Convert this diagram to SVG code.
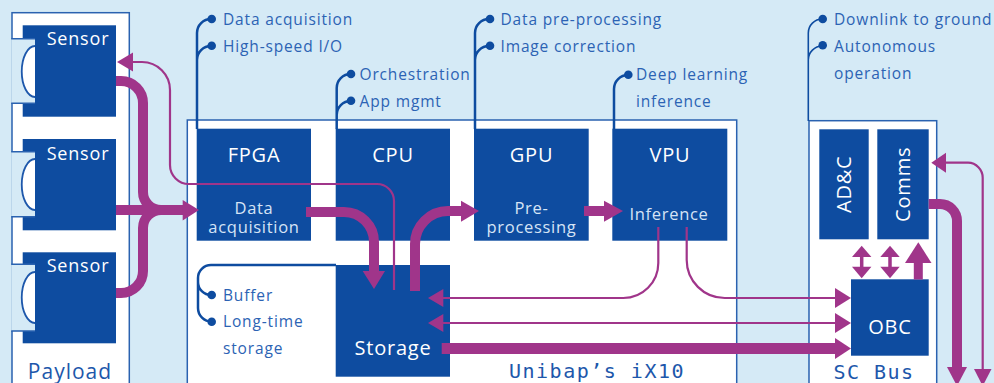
<svg xmlns="http://www.w3.org/2000/svg" width="994" height="383" viewBox="0 0 994 383">
<defs>
<style>
.bg{fill:#d5eaf6}
.frame{fill:#ffffff;stroke:#2a62b0;stroke-width:1.5}
.box{fill:#0e4ca0}
.lbl{font-family:"Open Sans","Noto Sans",sans-serif;fill:#ffffff;text-anchor:middle;letter-spacing:0.8px}
.sub{font-family:"Open Sans","Noto Sans",sans-serif;fill:#d6e4f6;text-anchor:middle;font-size:16.5px;letter-spacing:0.7px}
.ann{font-family:"Open Sans","Noto Sans",sans-serif;fill:#2c63b4;font-size:15.5px;letter-spacing:0.85px}
.mono{font-family:"DejaVu Sans Mono","Liberation Mono",monospace;fill:#1d57ab;font-size:20px;letter-spacing:1.5px}
.aline{fill:none;stroke:#0e4ca0;stroke-width:2.5}
.dot{fill:#0e4ca0}
.thick{fill:none;stroke:#a0358a;stroke-width:10}
.thin{fill:none;stroke:#a0358a;stroke-width:2.2}
.head{fill:#a0358a}
.lens{fill:#ffffff;stroke:#1d57ab;stroke-width:1.8}
</style>
</defs>
<rect class="bg" x="0" y="0" width="994" height="383"/>

<!-- Payload -->
<g id="payload">
<rect class="frame" x="12" y="12.7" width="117.3" height="380"/>
<text x="70" y="379" font-family="Open Sans, Noto Sans, sans-serif" font-size="21" letter-spacing="1" fill="#1d57ab" text-anchor="middle">Payload</text>
</g>
<g id="sensor1">
<rect class="box" x="22.7" y="25.3" width="93.3" height="91.4"/>
<rect class="bg" x="11.2" y="38.7" width="23.8" height="64.6"/>
<path d="M11.2,38.7 H35 M11.2,103.3 H35" stroke="#2a62b0" stroke-width="1.5"/>
<path class="lens" d="M35,46 A13,25 0 0 0 35,97"/>
<text class="lbl" x="78" y="45" font-size="18">Sensor</text>
</g>
<g id="sensor2">
<rect class="box" x="22.7" y="139" width="93.3" height="91.3"/>
<rect class="bg" x="11.2" y="151.7" width="23.8" height="65"/>
<path d="M11.2,151.7 H35 M11.2,216.7 H35" stroke="#2a62b0" stroke-width="1.5"/>
<path class="lens" d="M35,159 A13,25 0 0 0 35,210"/>
<text class="lbl" x="78" y="160" font-size="18">Sensor</text>
</g>
<g id="sensor3">
<rect class="box" x="22.7" y="252.3" width="93.3" height="91"/>
<rect class="bg" x="11.2" y="264.3" width="23.8" height="66.7"/>
<path d="M11.2,264.3 H35 M11.2,331 H35" stroke="#2a62b0" stroke-width="1.5"/>
<path class="lens" d="M35,272 A13,25 0 0 0 35,323"/>
<text class="lbl" x="78" y="272" font-size="18">Sensor</text>
</g>

<!-- iX10 -->
<g id="ix10">
<rect class="frame" x="187.3" y="120" width="549.4" height="275"/>
<text class="mono" x="597" y="378" text-anchor="middle">Unibap’s iX10</text>
</g>
<g id="fpga">
<rect class="box" x="196.7" y="128.7" width="114.3" height="112"/>
<text class="lbl" x="254" y="162" font-size="20">FPGA</text>
<text class="sub" x="254" y="214">Data</text>
<text class="sub" x="254" y="232.5">acquisition</text>
</g>
<g id="cpu">
<rect class="box" x="335.7" y="128.7" width="114.3" height="112"/>
<text class="lbl" x="393" y="162" font-size="20">CPU</text>
</g>
<g id="gpu">
<rect class="box" x="474" y="128.7" width="114.7" height="112"/>
<text class="lbl" x="531.5" y="162" font-size="20">GPU</text>
<text class="sub" x="531.5" y="214">Pre-</text>
<text class="sub" x="531.5" y="232.5">processing</text>
</g>
<g id="vpu">
<rect class="box" x="612.3" y="128.7" width="115" height="112"/>
<text class="lbl" x="670" y="162" font-size="20">VPU</text>
<text class="sub" x="669" y="219.5">Inference</text>
</g>
<g id="storage">
<rect class="box" x="335.7" y="265" width="114.3" height="111.7"/>
<text class="lbl" x="393" y="355" font-size="20">Storage</text>
</g>

<!-- SC Bus -->
<g id="scbus">
<rect class="frame" x="809" y="120.7" width="127.7" height="275"/>
<text class="mono" x="874" y="379" text-anchor="middle">SC Bus</text>
</g>
<g id="adc">
<rect class="box" x="819.3" y="129.3" width="49.4" height="110"/>
<text class="lbl" font-size="20" transform="translate(851,184.3) rotate(-90)">AD&amp;C</text>
</g>
<g id="comms">
<rect class="box" x="877.3" y="129.3" width="51.4" height="110"/>
<text class="lbl" font-size="20" transform="translate(910,184.3) rotate(-90)">Comms</text>
</g>
<g id="obc">
<rect class="box" x="851" y="279.3" width="77.7" height="76.4"/>
<text class="lbl" x="890" y="334" font-size="20">OBC</text>
</g>

<!-- Annotations -->
<g id="annotations">
<path class="aline" d="M197,129 V33 A14,14 0 0 1 211,19 M197,60 A14,14 0 0 1 211,46"/>
<circle class="dot" cx="211.7" cy="19" r="4.3"/>
<circle class="dot" cx="211.7" cy="45.7" r="4.3"/>
<text class="ann" x="223" y="24.5">Data acquisition</text>
<text class="ann" x="223" y="51.5">High-speed I/O</text>

<path class="aline" d="M336.7,129 V88 A14,14 0 0 1 350.7,74 M336.7,115 A14,14 0 0 1 350.7,101"/>
<circle class="dot" cx="351" cy="74" r="4.3"/>
<circle class="dot" cx="351" cy="100.7" r="4.3"/>
<text class="ann" x="359.5" y="79.5">Orchestration</text>
<text class="ann" x="359.5" y="106.5">App mgmt</text>

<path class="aline" d="M475,129 V33 A14,14 0 0 1 489,19 M475,60 A14,14 0 0 1 489,46"/>
<circle class="dot" cx="490" cy="19" r="4.3"/>
<circle class="dot" cx="490" cy="45.7" r="4.3"/>
<text class="ann" x="500.5" y="24.5">Data pre-processing</text>
<text class="ann" x="500.5" y="51.5">Image correction</text>

<path class="aline" d="M614,129 V89 A14,14 0 0 1 628,75"/>
<circle class="dot" cx="628.3" cy="74.7" r="4.3"/>
<text class="ann" x="636" y="79.5">Deep learning</text>
<text class="ann" x="636" y="106.5">inference</text>

<path class="aline" style="stroke-width:1.6" d="M808.3,121 V33 A14,14 0 0 1 822.3,19 M808.3,60 A14,14 0 0 1 822.3,46"/>
<circle class="dot" cx="822.7" cy="19" r="4.3"/>
<circle class="dot" cx="822.7" cy="45.3" r="4.3"/>
<text class="ann" x="834" y="24.5">Downlink to ground</text>
<text class="ann" x="834" y="51.5">Autonomous</text>
<text class="ann" x="834" y="78.5">operation</text>

<path class="aline" d="M336,265 H211 A13,13 0 0 0 198,278 V308 A13.7,13.7 0 0 0 211.7,321.7 M198,282 A13,13 0 0 0 211,295"/>
<circle class="dot" cx="211.7" cy="295" r="4.3"/>
<circle class="dot" cx="211.7" cy="321.7" r="4.3"/>
<text class="ann" x="223" y="300.5">Buffer</text>
<text class="ann" x="223" y="327">Long-time</text>
<text class="ann" x="223" y="354">storage</text>
</g>

<!-- Connectors -->
<g id="connectors">
<path class="thick" d="M116,81 H121 A22,22 0 0 1 143,103 V192 A18,18 0 0 0 161,210"/>
<path class="thick" d="M116,293 H121 A22,22 0 0 0 143,271 V228 A18,18 0 0 1 161,210"/>
<path class="thick" d="M116,210 H185"/>
<polygon class="head" points="182.7,200 199,210 182.7,220.5"/>

<path class="thin" d="M394,290 V201 A17,17 0 0 0 377,184 H189 A19,19 0 0 1 170,165 V90 A28,28 0 0 0 142,62 H132"/>
<polygon class="head" points="133,52.5 117,62 133,71.5"/>

<path class="thick" d="M306,212 H344 A30,30 0 0 1 374,242 V273"/>
<polygon class="head" points="362.7,271 385,271 374,289"/>

<path class="thick" d="M415,291 V244 A33,33 0 0 1 448,211 H463"/>
<polygon class="head" points="461,200.7 479,211 461,221.7"/>

<path class="thick" d="M584,211 H606"/>
<polygon class="head" points="604,200.7 623,211 604,221.7"/>

<path class="thin" d="M658.3,227 V263 A35,35 0 0 1 623.3,298 H442"/>
<polygon class="head" points="443.3,289 428,298 443.3,307"/>
<path class="thin" d="M686.7,227 V260 A38,38 0 0 0 724.7,298 H837"/>
<polygon class="head" points="835,288 851,298 835,308"/>

<path class="thin" d="M442,323 H837"/>
<polygon class="head" points="443.3,314 428,323 443.3,332"/>
<polygon class="head" points="835,313 851,323 835,333"/>

<path class="thick" style="stroke-width:11" d="M441.7,348.5 H837"/>
<polygon class="head" points="835,338 851,348.5 835,359"/>

<path d="M861.7,255 V268 M890,255 V268" stroke="#a0358a" stroke-width="3.5"/>
<polygon class="head" points="852,257 871.4,257 861.7,245.7"/>
<polygon class="head" points="852,266.7 871.4,266.7 861.7,278.3"/>
<polygon class="head" points="880.3,257 899.7,257 890,245.7"/>
<polygon class="head" points="880.3,266.7 899.7,266.7 890,278.3"/>
<rect class="head" x="913.8" y="261" width="9" height="18.5"/>
<polygon class="head" points="905,263 931.5,263 918.3,242.3"/>

<path class="thick" d="M928.7,204 H940 A17,17 0 0 1 957,221 V369"/>
<polygon class="head" points="947,367 967,367 957,386"/>

<path class="thin" d="M945,162.7 H968 A15,15 0 0 1 982.7,177.7 V371"/>
<polygon class="head" points="946,152.7 931.3,162.7 946,172.7"/>
<polygon class="head" points="974,369 991.5,369 982.7,386"/>
</g>
</svg>
